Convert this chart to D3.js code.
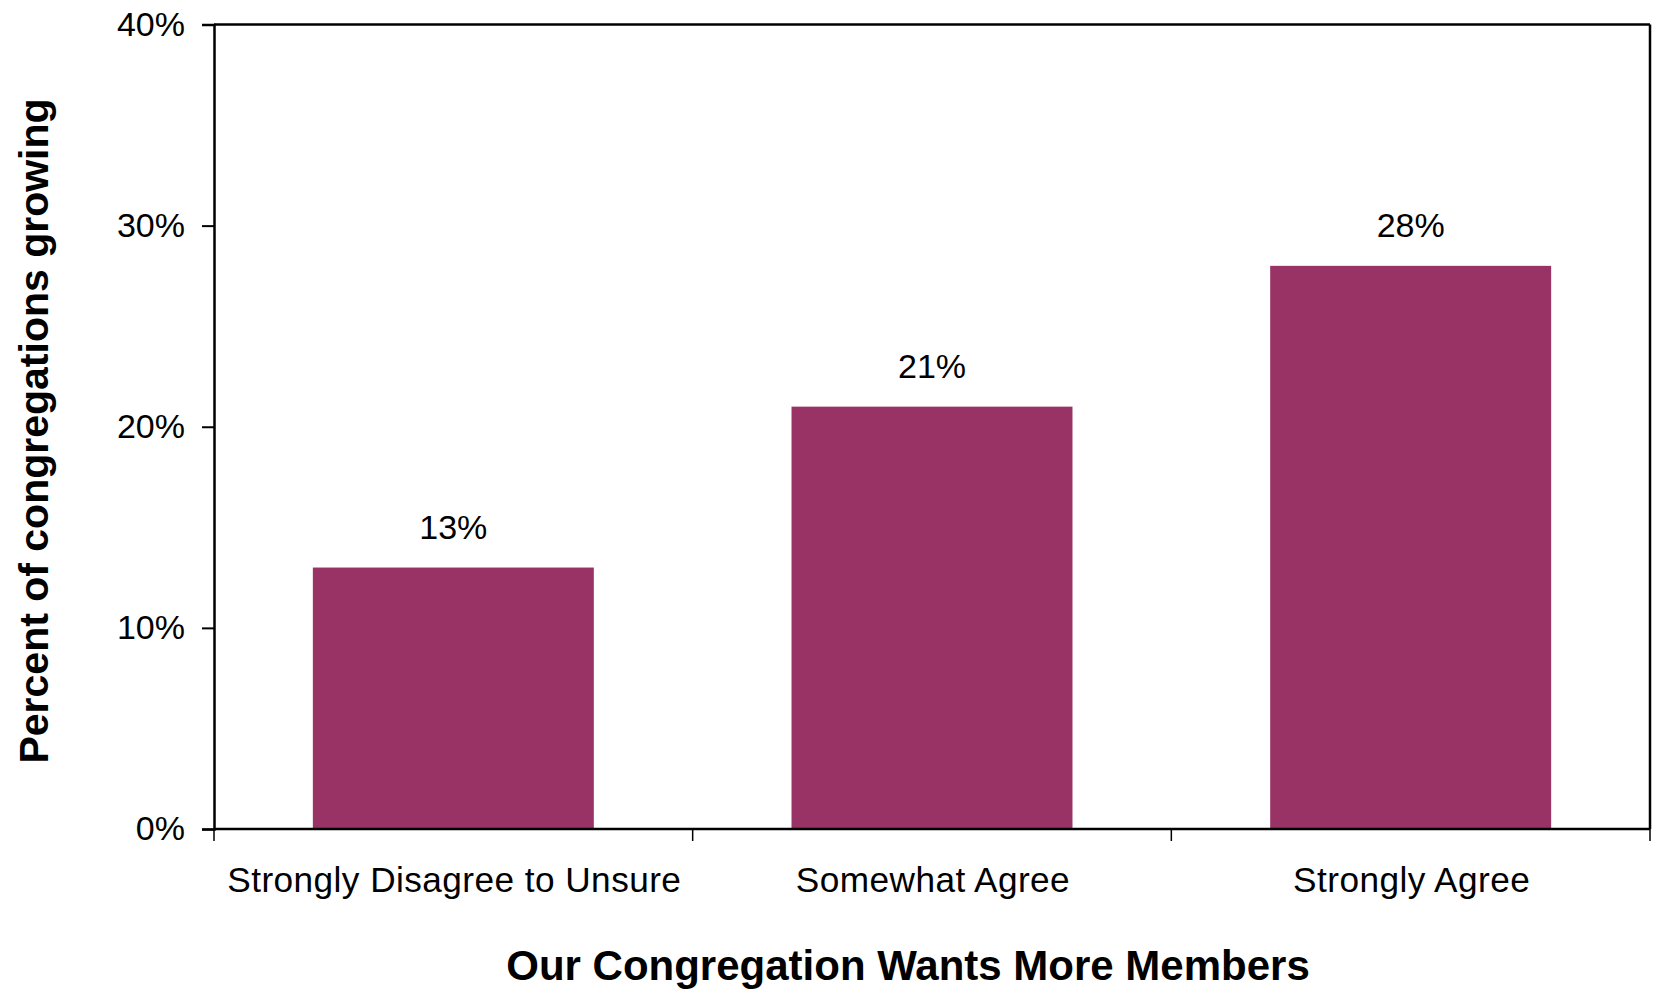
<!DOCTYPE html>
<html>
<head>
<meta charset="utf-8">
<script src="https://cdn.jsdelivr.net/npm/d3@7"></script>
<style>
  html, body { margin: 0; padding: 0; background: #fff; }
  svg { display: block; font-family: "Liberation Sans", Arial, sans-serif; }
</style>
</head>
<body>
<svg id="chart" width="1656" height="992"></svg>
<script>
const categories = ["Strongly Disagree to Unsure", "Somewhat Agree", "Strongly Agree"];
const values = [13, 21, 28];
const yTicks = [0, 10, 20, 30, 40];
const yTitle = "Percent of congregations growing";
const xTitle = "Our Congregation Wants More Members";

const svg = d3.select("#chart");
const plotLeft = 214, plotRight = 1650, plotTop = 24.5, plotBottom = 829;

const x = d3.scaleBand().domain(categories).range([plotLeft, plotRight])
  .paddingInner(0.413).paddingOuter(0.2065);
const y = d3.scaleLinear().domain([0, 40]).range([plotBottom, plotTop]);
const step = x.step();

// bars
svg.selectAll("rect.bar").data(values).enter().append("rect")
  .attr("class", "bar")
  .attr("x", (d, i) => x(categories[i]))
  .attr("width", x.bandwidth())
  .attr("y", d => y(d))
  .attr("height", d => y(0) - y(d))
  .attr("fill", "#993366");

// value labels
svg.selectAll("text.val").data(values).enter().append("text")
  .attr("class", "val")
  .attr("x", (d, i) => x(categories[i]) + x.bandwidth() / 2)
  .attr("y", d => y(d) - 29)
  .attr("text-anchor", "middle")
  .attr("font-size", 34)
  .attr("fill", "#000")
  .text(d => d + "%");

// frame top & right
svg.append("line").attr("x1", plotLeft).attr("x2", plotRight).attr("y1", y(40)).attr("y2", y(40))
  .attr("stroke", "#000").attr("stroke-width", 2.5);
svg.append("line").attr("x1", plotRight).attr("x2", plotRight).attr("y1", y(40)).attr("y2", y(0))
  .attr("stroke", "#000").attr("stroke-width", 2.5);

// y axis
const yAxis = d3.axisLeft(y).tickValues(yTicks).tickFormat(d => d + "%").tickSize(12).tickPadding(17);
const gy = svg.append("g").attr("transform", `translate(${plotLeft},0)`).call(yAxis);
gy.select(".domain").attr("stroke", "#000").attr("stroke-width", 2.5);
gy.selectAll(".tick line").attr("stroke", "#000").attr("stroke-width", 2);
gy.selectAll(".tick text").attr("font-size", 34).attr("fill", "#000")
  .attr("font-family", "Liberation Sans, Arial, sans-serif");

// x axis (category boundaries ticks)
const boundaries = d3.range(categories.length + 1).map(i => plotLeft + i * step);
svg.append("line").attr("x1", plotLeft).attr("x2", plotRight).attr("y1", y(0)).attr("y2", y(0))
  .attr("stroke", "#000").attr("stroke-width", 2.5);
svg.selectAll("line.xtick").data(boundaries).enter().append("line")
  .attr("class", "xtick")
  .attr("x1", d => d).attr("x2", d => d)
  .attr("y1", y(0)).attr("y2", y(0) + 12)
  .attr("stroke", "#000").attr("stroke-width", 1.5);

svg.selectAll("text.cat").data(categories).enter().append("text")
  .attr("class", "cat")
  .attr("x", d => x(d) + x.bandwidth() / 2 + 1)
  .attr("y", 892)
  .attr("text-anchor", "middle")
  .attr("font-size", 35.2)
  .attr("letter-spacing", 0.45)
  .attr("fill", "#000")
  .text(d => d);

// titles
svg.append("text")
  .attr("x", 908).attr("y", 980)
  .attr("text-anchor", "middle")
  .attr("font-size", 42).attr("font-weight", "bold")
  .attr("fill", "#000")
  .text(xTitle);

svg.append("text")
  .attr("transform", `translate(48,431) rotate(-90)`)
  .attr("text-anchor", "middle")
  .attr("font-size", 41).attr("font-weight", "bold")
  .attr("fill", "#000")
  .text(yTitle);
</script>
</body>
</html>
